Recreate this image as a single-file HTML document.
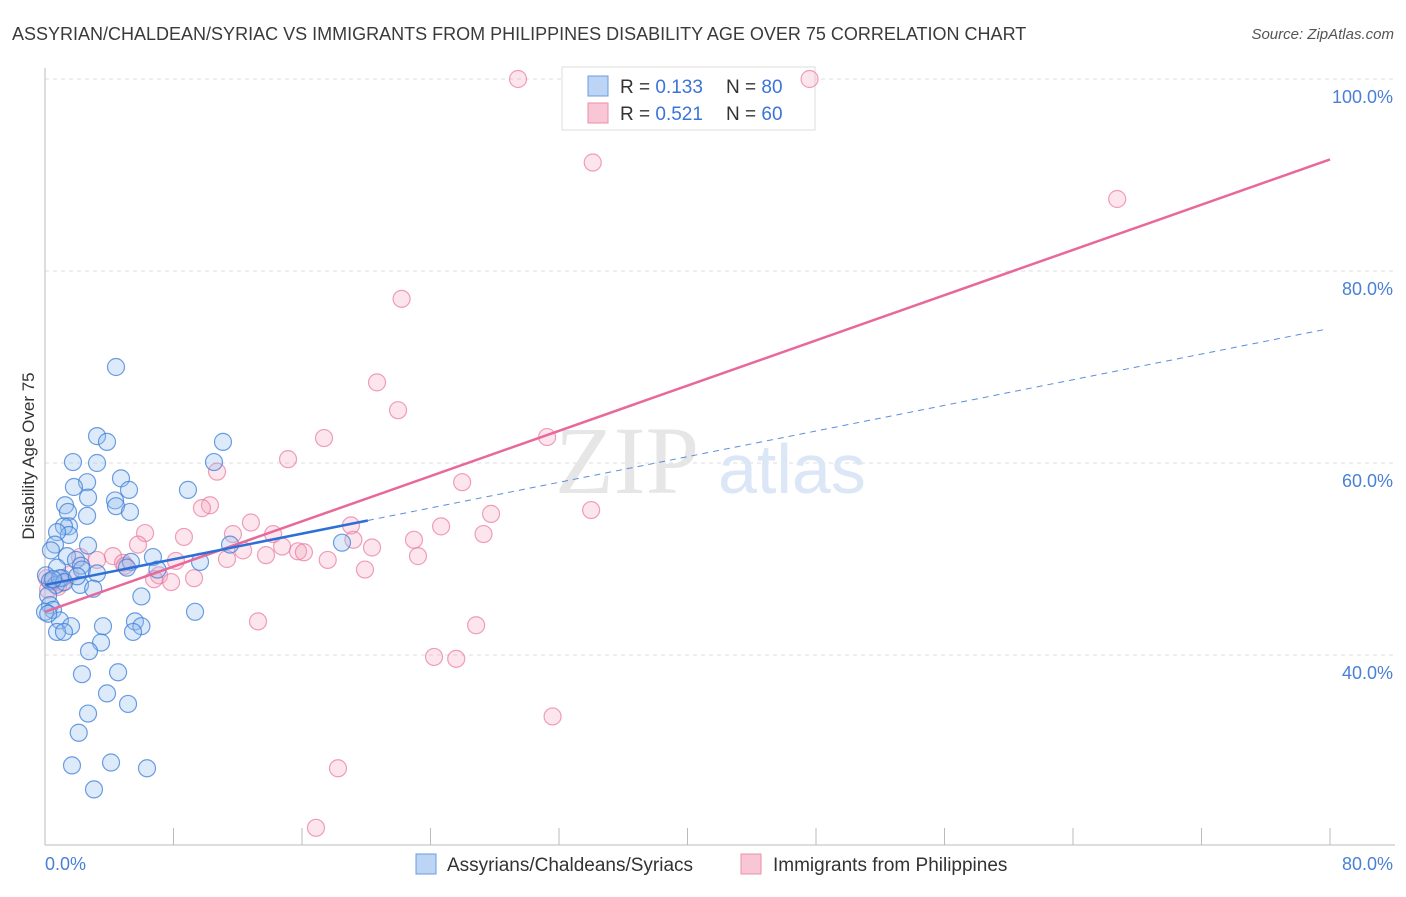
<!DOCTYPE html>
<html><head><meta charset="utf-8"><style>
body{margin:0;background:#fff;font-family:"Liberation Sans",sans-serif}
</style></head><body>
<svg width="1406" height="892" viewBox="0 0 1406 892" xmlns="http://www.w3.org/2000/svg" font-family="Liberation Sans, sans-serif">
<text x="12" y="40" font-size="18" fill="#3a3a3a">ASSYRIAN/CHALDEAN/SYRIAC VS IMMIGRANTS FROM PHILIPPINES DISABILITY AGE OVER 75 CORRELATION CHART</text>
<text x="1394" y="39" font-size="15" fill="#555" font-style="italic" text-anchor="end">Source: ZipAtlas.com</text>
<g id="grid"></g>
<g>
<text x="555" y="493" font-size="96" font-family="Liberation Serif, serif" fill="#e6e6e6">ZIP</text>
<text x="718" y="493" font-size="70" fill="#dbe6f6">atlas</text>
</g>
<line x1="45" y1="68" x2="45" y2="845" stroke="#bbb"/>
<line x1="45" y1="845" x2="1395" y2="845" stroke="#bbb"/>
<g id="xticks"></g>
<g id="ylabels"></g>
<g>
<rect x="562" y="67" width="253" height="63" fill="#fff" stroke="#ddd"/>
<rect x="588" y="76" width="20" height="20" fill="#bcd5f5" stroke="#6a9de0"/>
<rect x="588" y="103" width="20" height="20" fill="#f9c6d6" stroke="#eb8fab"/>
<text x="620" y="93" font-size="19" fill="#333">R = <tspan fill="#3a74d8">0.133</tspan></text>
<text x="726" y="93" font-size="19" fill="#333">N = <tspan fill="#3a74d8">80</tspan></text>
<text x="620" y="120" font-size="19" fill="#333">R = <tspan fill="#3a74d8">0.521</tspan></text>
<text x="726" y="120" font-size="19" fill="#333">N = <tspan fill="#3a74d8">60</tspan></text>
</g>
<g id="pink"></g>
<g id="blue"></g>
<g id="trends"></g>
<text x="34" y="456" font-size="17" fill="#333" text-anchor="middle" transform="rotate(-90 34 456)">Disability Age Over 75</text>
<text x="45" y="870" font-size="18" fill="#4a7fd6">0.0%</text>
<text x="1393" y="870" font-size="18" fill="#4a7fd6" text-anchor="end">80.0%</text>
<g>
<rect x="416" y="854" width="20" height="20" fill="#bcd5f5" stroke="#6a9de0"/>
<text x="447" y="871" font-size="19" fill="#333">Assyrians/Chaldeans/Syriacs</text>
<rect x="741" y="854" width="20" height="20" fill="#f9c6d6" stroke="#eb8fab"/>
<text x="773" y="871" font-size="19" fill="#333">Immigrants from Philippines</text>
</g>
</svg>
<script>
const yTicks=[40,60,80,100];
const yTickLabels=["40.0%","60.0%","80.0%","100.0%"];
const xTicks=[0,8,16,24,32,40,48,56,64,72,80];
const blueX=[4.42,3.24,3.86,11.08,1.74,3.24,10.52,4.73,2.62,1.8,5.23,8.9,4.36,2.68,1.25,4.42,5.29,1.43,2.62,1.49,1.18,1.49,0.75,0.62,2.68,11.52,18.49,0.37,1.37,6.72,9.65,1.93,5.35,2.24,0.75,2.3,3.24,5.1,7.0,0.06,1.06,0.31,0.68,2.18,3.0,6.0,0.19,0.31,0.5,0,9.34,0.93,1.62,3.61,5.6,6.0,5.48,0.75,1.18,3.49,2.74,2.3,4.55,3.86,5.17,2.68,2.1,1.68,4.11,6.35,3.05,0.93,1.2,0.5,2.0,0.2];
const blueY=[70.0,62.8,62.2,62.2,60.1,60.0,60.1,58.4,58.0,57.5,57.2,57.2,56.1,56.4,55.6,55.5,54.9,54.9,54.5,53.4,53.4,52.5,52.8,51.5,51.4,51.5,51.7,50.9,50.3,50.2,49.7,49.9,49.7,49.3,49.1,48.9,48.5,49.1,48.9,48.3,48.0,47.7,47.3,47.3,46.9,46.1,46.2,45.2,44.7,44.5,44.5,43.6,43.0,43.0,43.5,43.0,42.4,42.4,42.4,41.3,40.4,38.0,38.2,36.0,34.9,33.9,31.9,28.5,28.8,28.2,26.0,48.0,47.6,47.9,48.2,44.3];
const pinkX=[29.45,47.6,34.1,66.75,22.2,20.67,21.98,31.26,17.37,15.13,10.71,25.97,10.27,9.77,34.0,27.77,24.66,19.05,12.82,6.23,11.7,8.65,14.2,27.3,19.2,22.97,20.36,14.76,5.79,12.33,15.75,16.12,23.22,13.76,17.6,4.23,2.18,3.24,8.15,11.33,4.86,19.92,7.1,9.28,6.79,7.85,0.12,0.44,1.06,0.81,0.19,4.98,13.26,26.84,24.22,25.6,31.6,18.24,16.87,1.56];
const pinkY=[100,100,91.3,87.5,77.1,68.4,65.5,62.7,62.6,60.4,59.1,58.0,55.6,55.3,55.1,54.7,53.4,53.5,53.8,52.7,52.6,52.3,52.6,52.6,52.0,52.0,51.2,51.3,51.5,50.9,50.8,50.7,50.3,50.4,49.9,50.3,50.2,49.9,49.8,50.0,49.6,48.9,48.3,48.0,47.9,47.6,48.0,47.6,47.5,47.1,46.8,49.3,43.5,43.1,39.8,39.6,33.6,28.2,22.0,48.4];
const blueTrend=[47.3,0.334];
const blueSolidEnd=20.1, blueDashEnd=79.7;
const pinkTrend=[44.5,0.589];
const NS="http://www.w3.org/2000/svg";
const xs=v=>45+v*(1285/80);
const ys=v=>79+(100-v)*9.6;
function mk(tag,attrs,parent){const e=document.createElementNS(NS,tag);for(const k in attrs)e.setAttribute(k,attrs[k]);parent.appendChild(e);return e;}
const grid=document.getElementById('grid'),yl=document.getElementById('ylabels');
yTicks.forEach((t,i)=>{
 const l=mk('line',{x1:45,x2:1395,y1:ys(t),y2:ys(t),stroke:'#ddd','stroke-dasharray':'4,4'},grid);
 
 
 const tx=mk('text',{x:1393,y:ys(t)+24,'font-size':18,fill:'#4a7fd6','text-anchor':'end'},yl);
 tx.textContent=yTickLabels[i];
 
 
});
const xt=document.getElementById('xticks');
xTicks.forEach(t=>{
 const l=mk('line',{x1:xs(t),x2:xs(t),y1:828,y2:845,stroke:'#bbb'},xt);
 
 
});
function pts(X,Y,g,fill,stroke,name){
 X.forEach((x,i)=>{
  const c=mk('circle',{cx:xs(x),cy:ys(Y[i]),r:8.5,fill:fill,stroke:stroke,'stroke-width':1.2},g);
  
  
 });
}
pts(pinkX,pinkY,document.getElementById('pink'),'rgba(244,160,188,0.28)','rgba(232,120,160,0.7)','philippines-point');
pts(blueX,blueY,document.getElementById('blue'),'rgba(150,190,240,0.32)','rgba(60,125,215,0.75)','assyrian-point');
const tr=document.getElementById('trends');
const by=x=>blueTrend[0]+blueTrend[1]*x, py=x=>pinkTrend[0]+pinkTrend[1]*x;
let e=mk('line',{x1:xs(0),y1:ys(py(0)),x2:xs(80),y2:ys(py(80)),stroke:'#e8689a','stroke-width':2.5},tr);


e=mk('line',{x1:xs(blueSolidEnd),y1:ys(by(blueSolidEnd)),x2:xs(blueDashEnd),y2:ys(by(blueDashEnd)),stroke:'#5a8fd8','stroke-width':1,'stroke-dasharray':'6,5'},tr);


e=mk('line',{x1:xs(0),y1:ys(by(0)),x2:xs(blueSolidEnd),y2:ys(by(blueSolidEnd)),stroke:'#2d6fd6','stroke-width':2.5},tr);


</script>
</body></html>
